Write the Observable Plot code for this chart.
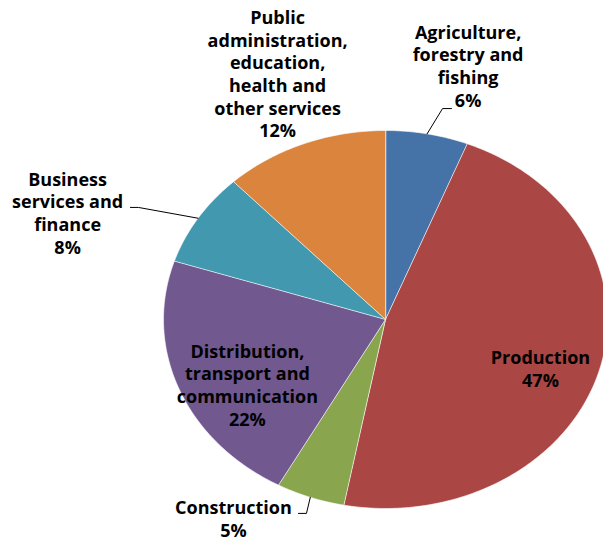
<!DOCTYPE html>
<html>
<head>
<meta charset="utf-8">
<script src="https://cdn.jsdelivr.net/npm/d3@7"></script>
<script src="https://cdn.jsdelivr.net/npm/@observablehq/plot@0.6"></script>
<style>
  html, body { margin: 0; padding: 0; background: #fff; }
</style>
</head>
<body>
<div id="chart"></div>
<script>
// ---- data ----
const sectors = [
  "Agriculture, forestry and fishing",
  "Production",
  "Construction",
  "Distribution, transport and communication",
  "Business services and finance",
  "Public administration, education, health and other services"
];
const shares = [6, 47, 5, 22, 8, 12];
const labelLines = [
  ["Agriculture,", "forestry and", "fishing"],
  ["Production"],
  ["Construction"],
  ["Distribution,", "transport and", "communication"],
  ["Business", "services and", "finance"],
  ["Public", "administration,", "education,", "health and", "other services"]
];
const colors = ["#4572A7", "#AA4643", "#89A54E", "#71588F", "#4198AF", "#DB843D"];

// ---- layout (normalized pie units, separate from data) ----
const labelPos = [
  [0.372, 1.344], [0.698, -0.259], [-0.685, -1.052],
  [-0.622, -0.344], [-1.432, 0.566], [-0.486, 1.302]
];
// leader lines: slice index -> [elbow, end]
const leaders = [
  {i: 0, pts: [[0.257, 1.116], [0.297, 1.116]]},
  {i: 4, pts: [[-1.113, 0.593], [-1.149, 0.593]]},
  {i: 2, pts: [[-0.356, -1.026], [-0.392, -1.026]]}
];

// ---- build geometry from data ----
const total = d3.sum(shares);
const starts = d3.cumsum([0, ...shares]).slice(0, shares.length);
const toAngle = v => v / total * 2 * Math.PI;
const slices = [];
sectors.forEach((s, i) => {
  const a0 = toAngle(starts[i]), a1 = toAngle(starts[i] + shares[i]);
  const n = Math.max(2, Math.ceil((a1 - a0) / (Math.PI / 180)));
  slices.push({sector: s, x: 0, y: 0});
  for (let k = 0; k <= n; k++) {
    const a = a0 + (a1 - a0) * k / n;
    slices.push({sector: s, x: Math.sin(a), y: Math.cos(a)});
  }
});
const labels = sectors.map((s, i) => ({
  x: labelPos[i][0], y: labelPos[i][1],
  text: [...labelLines[i], Math.round(shares[i] / total * 100) + "%"].join("\n")
}));
const leaderPts = [];
leaders.forEach(({i, pts}) => {
  const mid = toAngle(starts[i] + shares[i] / 2);
  leaderPts.push({id: i, x: Math.sin(mid), y: Math.cos(mid)});
  pts.forEach(p => leaderPts.push({id: i, x: p[0], y: p[1]}));
});

const chart = Plot.plot({
  width: 603,
  height: 542,
  margin: 0,
  style: {fontFamily: "'Open Sans', sans-serif", background: "#fff"},
  x: {domain: [-1, 1], range: [163, 607], axis: null},
  y: {domain: [-1, 1], range: [508, 130], axis: null},
  color: {domain: sectors, range: colors},
  marks: [
    Plot.line(slices, {x: "x", y: "y", z: "sector", fill: "sector", stroke: "#fff", strokeWidth: 0.6, curve: "linear-closed"}),
    Plot.line(leaderPts, {x: "x", y: "y", z: "id", stroke: "#000", strokeWidth: 1}),
    Plot.text(labels, {x: "x", y: "y", text: "text", fontSize: 18, fontWeight: "bold", lineHeight: 1.26, fill: "#000", textAnchor: "middle"})
  ]
});
document.getElementById("chart").appendChild(chart);
</script>
</body>
</html>
